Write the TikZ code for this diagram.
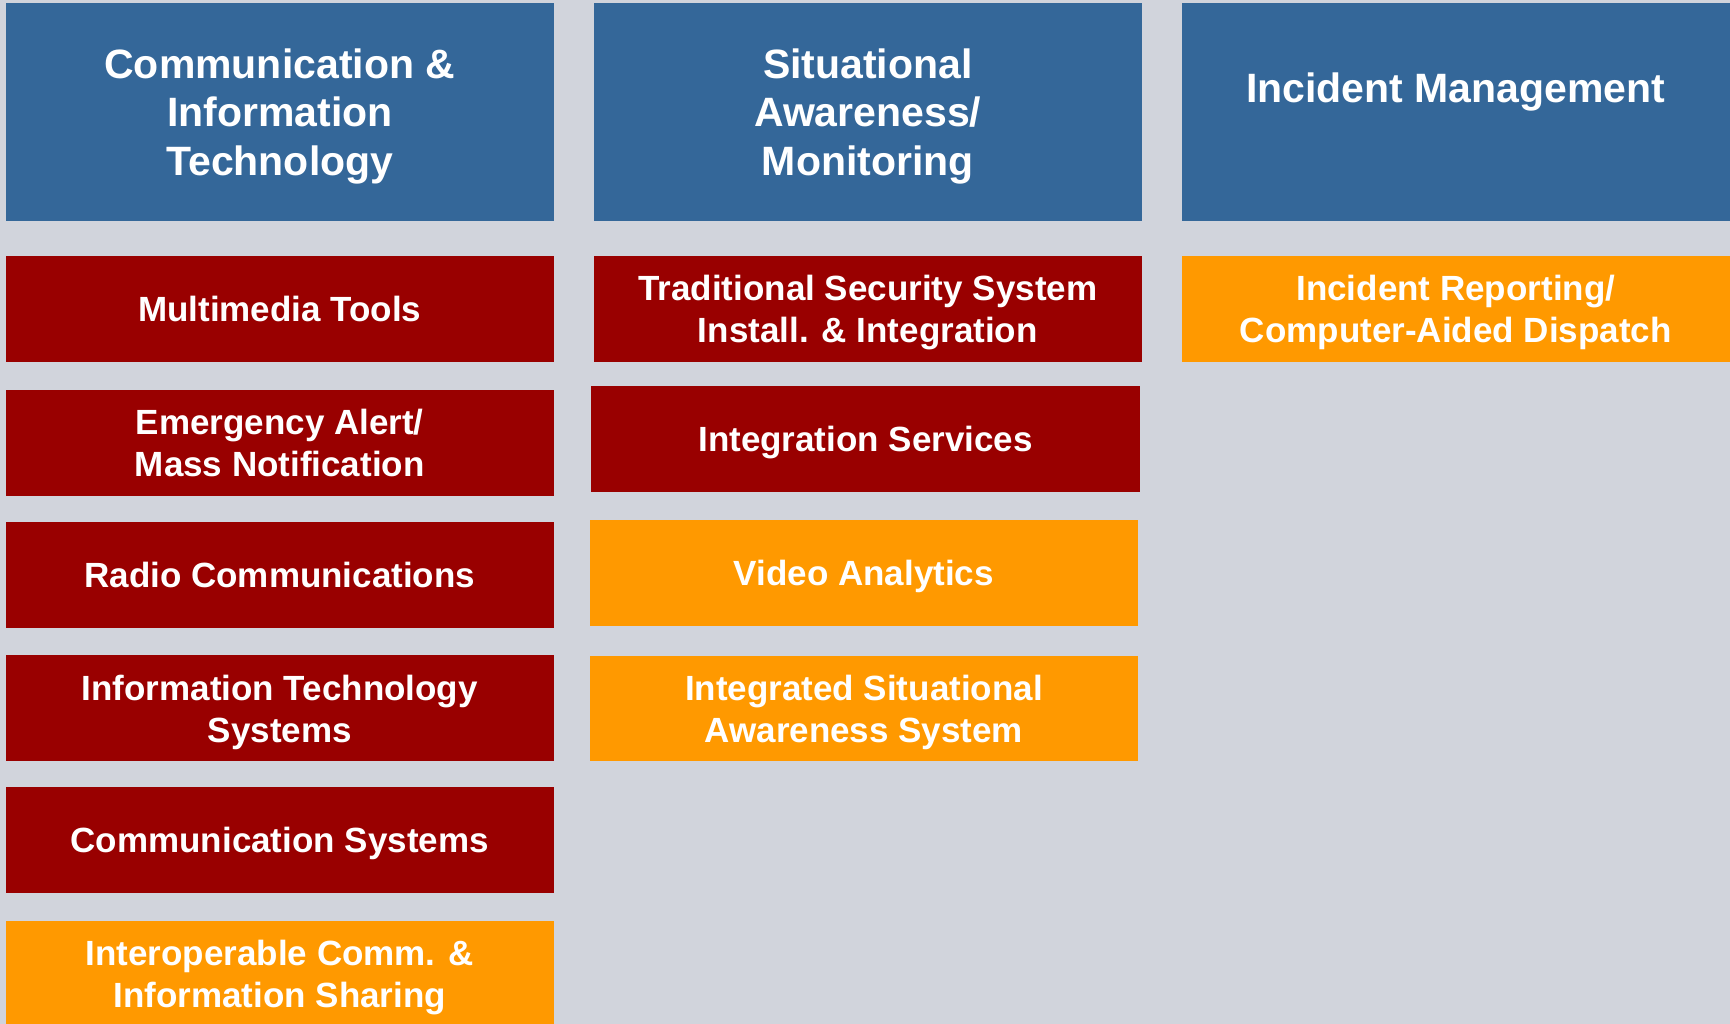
\documentclass[tikz,border=0pt]{standalone}
\usepackage{fontspec}
\setmainfont{Liberation Sans}
\definecolor{bgcol}{RGB}{209,212,220}
\definecolor{hdrblue}{RGB}{52,103,153}
\definecolor{darkred}{RGB}{153,0,0}
\definecolor{amber}{RGB}{255,153,0}
\begin{document}
\begin{tikzpicture}[x=1pt,y=-1pt,
  box/.style={rectangle, inner sep=0pt, outer sep=0pt, text=white, align=center, text depth=0pt},
  hdr/.style={box, fill=hdrblue, minimum height=217.4pt, font=\fontsize{41}{48.7}\selectfont\bfseries},
  itm/.style={box, text depth=-3pt, minimum height=106pt, font=\fontsize{35}{42}\selectfont\bfseries},
  redbox/.style={itm, fill=darkred},
  ambox/.style={itm, fill=amber},
  colL/.style={minimum width=548.5pt},
  colM/.style={minimum width=548.4pt},
  colR/.style={minimum width=548.4pt}]
\useasboundingbox (0,0) rectangle (1730,1024);
\clip (0,0) rectangle (1730,1024);
\fill[bgcol] (0,0) rectangle (1730,1024);
% headers
\node[hdr,colL] (h1) at (279.75,112) {Communication \&\\Information\\Technology};
\node[hdr,colM] (h2) at (867.8,112) {Situational\\Awareness/\\Monitoring};
\node[hdr,colR] (h3) at (1455.8,112) {};
\node[anchor=base, inner sep=0pt, text=white, font=\fontsize{41}{48.7}\selectfont\bfseries] (h3t) at (1455.8,102.5) {Incident Management};
% left column
\node[redbox,colL] (l1) at (279.75,309) {Multimedia Tools};
\node[redbox,colL] (l2) at (279.75,442.5) {Emergency Alert/\\Mass Notification};
\node[redbox,colL] (l3) at (279.75,574.9) {Radio Communications};
\node[redbox,colL] (l4) at (279.75,708.4) {Information Technology\\Systems};
\node[redbox,colL] (l5) at (279.75,839.7) {Communication Systems};
\node[ambox,colL,minimum height=107pt] (l6) at (279.75,974) {Interoperable Comm. \&\\Information Sharing};
% middle column
\node[redbox,colM] (m1) at (867.8,309) {Traditional Security System\\Install. \& Integration};
\node[redbox,minimum width=548.3pt] (m2) at (865.55,439) {Integration Services};
\node[ambox,minimum width=547.2pt] (m3) at (863.9,572.7) {Video Analytics};
\node[ambox,minimum width=547.2pt,minimum height=105pt] (m4) at (863.9,708.9) {Integrated Situational\\Awareness System};
% right column
\node[ambox,colR] (r1) at (1455.8,309) {Incident Reporting/\\Computer-Aided Dispatch};
\end{tikzpicture}
\end{document}
